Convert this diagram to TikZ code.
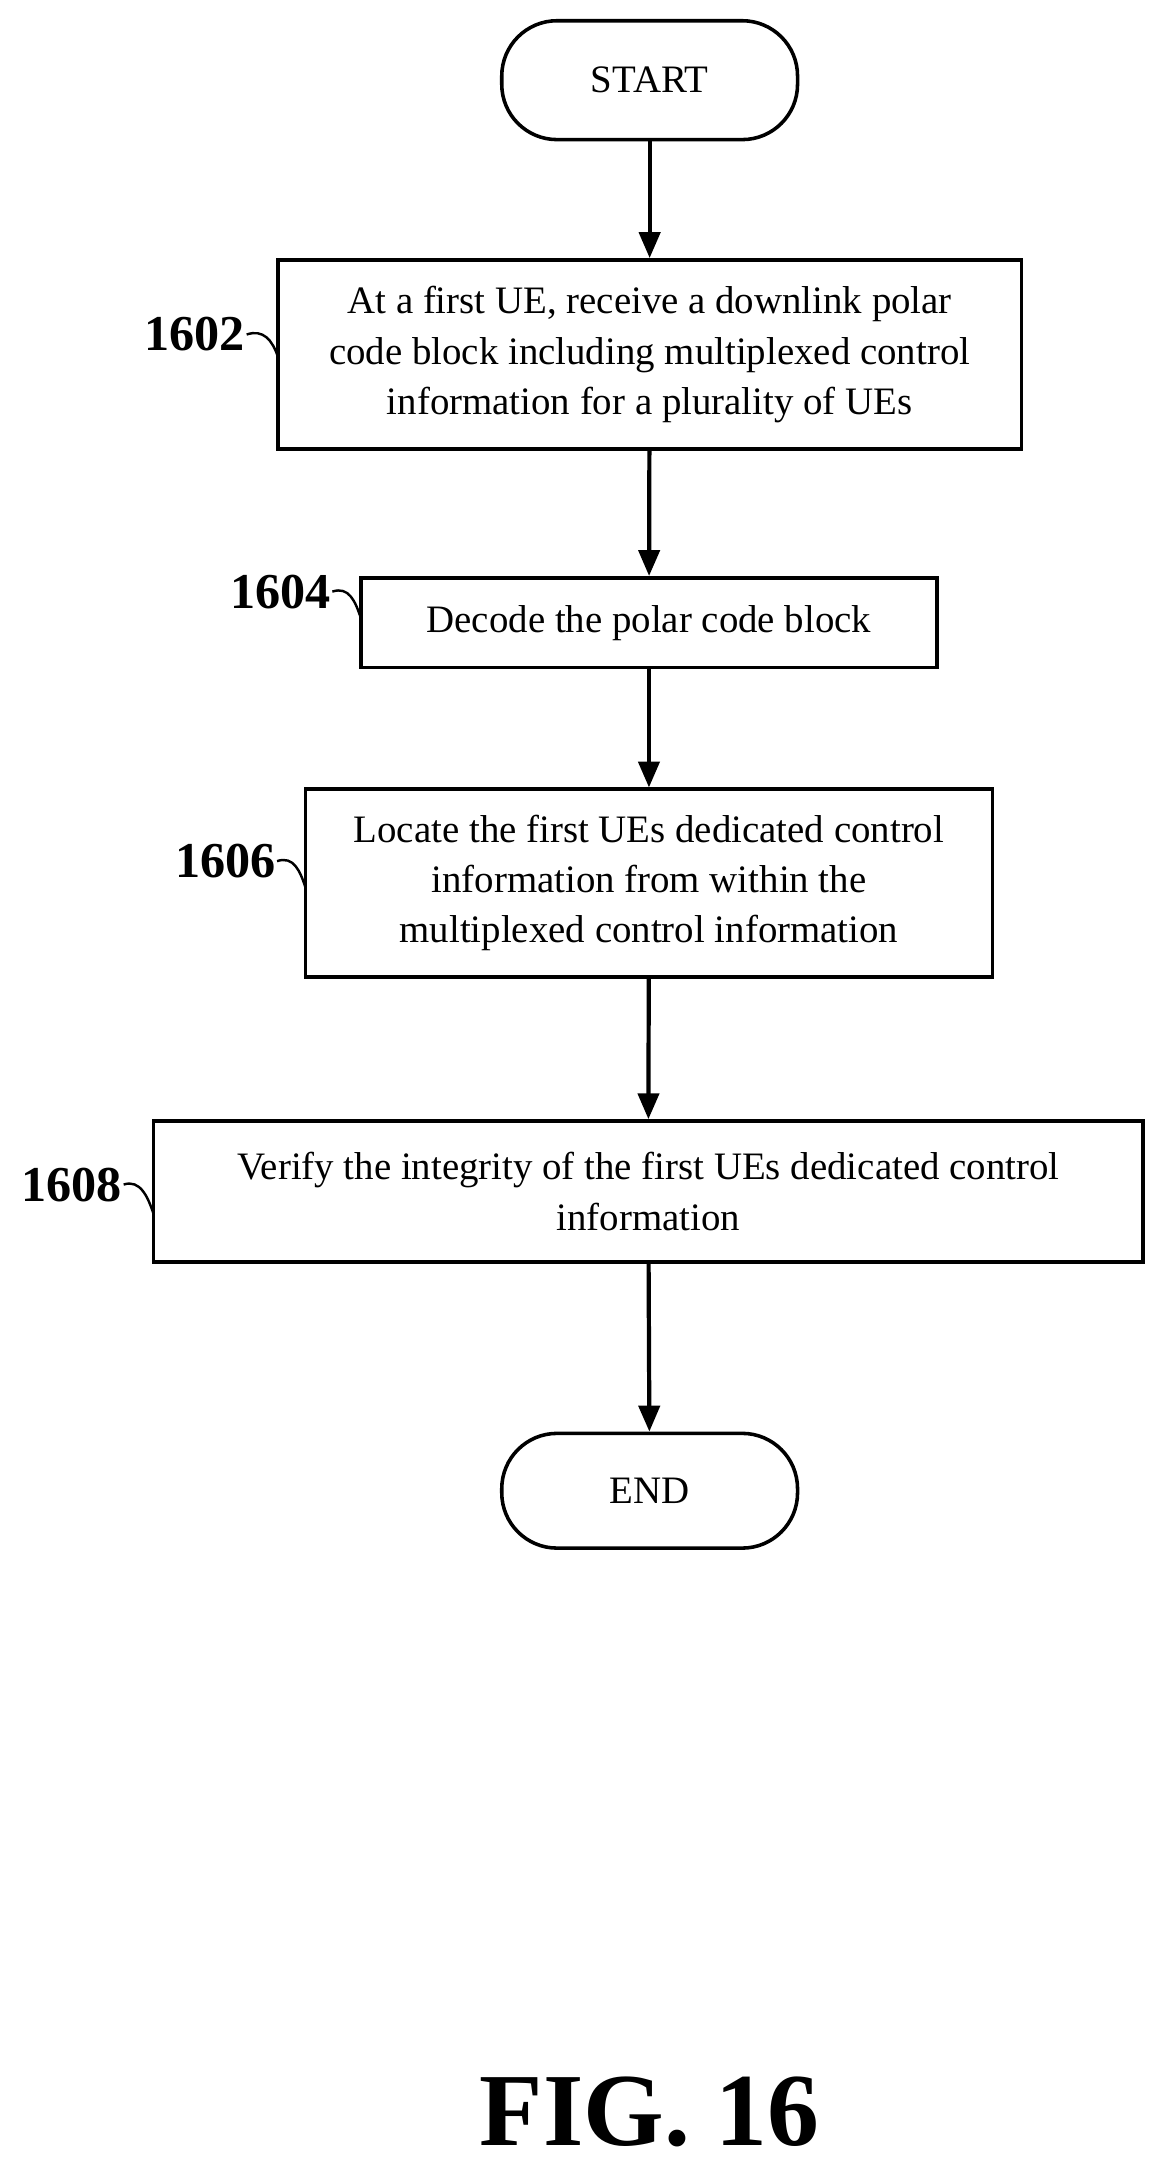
\documentclass[tikz,border=0pt]{standalone}
\usepackage{fontspec}
\setmainfont{Liberation Serif}
\usetikzlibrary{arrows.meta}
\begin{document}
\begin{tikzpicture}[x=0.03cm,y=-0.03cm,
  box/.style={draw,line width=2.2pt,align=center,font=\fontsize{24}{31}\selectfont,inner sep=0pt},
  term/.style={box,rounded corners=1.2cm},
  arr/.style={line width=2.6pt,-{Triangle[length=16pt,width=13pt]}},
  lbl/.style={font=\fontsize{31}{34}\selectfont\bfseries},
  sq/.style={line width=1.5pt}]
\useasboundingbox[fill=white] (0,0) rectangle (848,1575);
\node[term,minimum width=214*0.03cm,minimum height=86*0.03cm] (start) at (470,58) {START};
\node[box,minimum width=538*0.03cm,minimum height=137*0.03cm] (b1) at (470,256.5) {At a first UE, receive a downlink polar\\code block including multiplexed control\\information for a plurality of UEs};
\node[box,minimum width=417*0.03cm,minimum height=65*0.03cm] (b2) at (469.5,450.5) {Decode the polar code block};
\node[box,minimum width=497*0.03cm,minimum height=136*0.03cm] (b3) at (469.5,639) {Locate the first UEs dedicated control\\information from within the\\multiplexed control information};
\node[box,minimum width=716*0.03cm,minimum height=102*0.03cm] (b4) at (469,862) {Verify the integrity of the first UEs dedicated control\\information};
\node[term,minimum width=214*0.03cm,minimum height=83*0.03cm] (end) at (470,1078.5) {END};
\draw[arr] (start) -- (b1);
\draw[arr] (b1) -- (b2);
\draw[arr] (b2) -- (b3);
\draw[arr] (b3) -- (b4);
\draw[arr] (b4) -- (end);
\node[lbl] (l1) at (141,242) {1602};
\node[lbl] (l2) at (203,428) {1604};
\node[lbl] (l3) at (163,623) {1606};
\node[lbl] (l4) at (52,857) {1608};
\coordinate (c1) at (201,258);
\coordinate (c2) at (261,447);
\coordinate (c3) at (221,642);
\coordinate (c4) at (111,878);
\draw[sq] (l1.east) ++(-3,0) .. controls +(12,-4) and +(-4,-12) .. (c1);
\draw[sq] (l2.east) ++(-3,0) .. controls +(12,-4) and +(-4,-12) .. (c2);
\draw[sq] (l3.east) ++(-3,0) .. controls +(12,-4) and +(-4,-12) .. (c3);
\draw[sq] (l4.east) ++(-3,0) .. controls +(12,-4) and +(-4,-12) .. (c4);
\node[font=\fontsize{64}{70}\selectfont\bfseries] (fig) at (470,1528) {FIG. 16};
\end{tikzpicture}
\end{document}
